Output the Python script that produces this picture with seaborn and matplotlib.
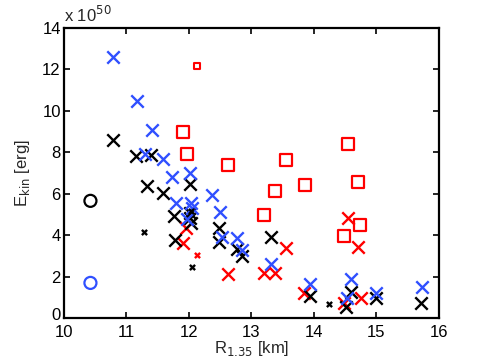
import matplotlib
matplotlib.use("Agg")
import matplotlib.pyplot as plt
import matplotlib.transforms as mtrans
import seaborn as sns
import numpy as np

# ---- data (R_1.35 in km, E_kin in 1e50 erg) ----
blue_x_R = [10.79, 11.17, 11.41, 11.30, 11.59, 11.74, 12.02, 12.37, 11.79, 12.03, 12.05,
            12.50, 11.97, 12.53, 12.77, 12.85, 13.32, 13.94, 14.59, 14.53, 14.99, 15.73]
blue_x_E = [12.60, 10.48, 9.08, 7.92, 7.68, 6.82, 6.98, 5.94, 5.58, 5.54, 5.33,
            5.12, 4.78, 3.93, 3.89, 3.31, 2.61, 1.63, 1.87, 0.95, 1.22, 1.51]

black_x_R = [10.79, 11.16, 11.39, 11.33, 12.02, 11.59, 11.76, 12.02, 12.02, 12.04, 12.49,
             12.48, 11.78, 12.77, 12.85, 13.32, 13.94, 14.59, 14.51, 14.99, 15.72]
black_x_E = [8.59, 7.82, 7.87, 6.37, 6.47, 6.05, 4.95, 5.05, 4.81, 4.61, 4.37,
             3.68, 3.78, 3.33, 3.02, 3.90, 1.08, 1.27, 0.56, 0.95, 0.74]

black_small_R = [11.29, 12.05, 14.24, 12.03]
black_small_E = [4.18, 2.49, 0.66, 5.17]

red_x_R = [11.96, 11.91, 12.63, 13.20, 13.38, 13.56, 13.85, 14.55, 14.71, 14.48, 14.75]
red_x_E = [4.33, 3.62, 2.12, 2.20, 2.17, 3.38, 1.19, 4.81, 3.41, 0.72, 0.98]

red_small_x_R = [12.13]
red_small_x_E = [3.04]

red_sq_R = [11.91, 11.97, 12.63, 13.20, 13.38, 13.56, 13.86, 14.55, 14.71, 14.74, 14.48]
red_sq_E = [8.96, 7.94, 7.39, 5.00, 6.15, 7.63, 6.42, 8.38, 6.58, 4.49, 3.96]

red_small_sq_R = [12.13]
red_small_sq_E = [12.18]

black_o_R = [10.43]
black_o_E = [5.66]
blue_o_R = [10.43]
blue_o_E = [1.70]

xticks = [10, 11, 12, 13, 14, 15, 16]
yticks = [0, 2, 4, 6, 8, 10, 12, 14]

BLUE = "#3050ff"
RED = "#ff0000"
BLACK = "#000000"

sns.set_theme(style="white")
plt.rcParams["font.family"] = ["Liberation Sans", "DejaVu Sans"]

fig = plt.figure(figsize=(4.85, 3.64), dpi=100)
ax = fig.add_axes([0.131, 0.126, 0.774, 0.797])

big = 80
small = 14

def xs(R, E, color, s, lw):
    sns.scatterplot(x=R, y=E, marker="x", s=s, color=color, linewidth=lw, ax=ax, zorder=3)

sns.scatterplot(x=red_sq_R, y=red_sq_E, marker="s", s=75, facecolor="none",
                edgecolor=RED, linewidth=1.6, ax=ax, zorder=3)
sns.scatterplot(x=red_small_sq_R, y=red_small_sq_E, marker="s", s=20, facecolor="none",
                edgecolor=RED, linewidth=1.5, ax=ax, zorder=3)
sns.scatterplot(x=black_o_R, y=black_o_E, marker="o", s=75, facecolor="none",
                edgecolor=BLACK, linewidth=1.6, ax=ax, zorder=3)
sns.scatterplot(x=blue_o_R, y=blue_o_E, marker="o", s=75, facecolor="none",
                edgecolor=BLUE, linewidth=1.6, ax=ax, zorder=3)

xs(red_x_R, red_x_E, RED, big, 1.7)
xs(black_x_R, black_x_E, BLACK, big, 1.7)
xs(blue_x_R, blue_x_E, BLUE, big, 1.7)
xs(black_small_R, black_small_E, BLACK, small, 1.7)
xs(red_small_x_R, red_small_x_E, RED, small, 1.7)

ax.set_xlim(10, 16)
ax.set_ylim(0, 14)
ax.set_xticks(xticks)
ax.set_yticks(yticks)
ax.tick_params(direction="in", length=4, width=1.2, top=True, right=True,
               bottom=True, left=True, labelsize=12, colors="black")
ax.tick_params(axis="x", pad=5)
ax.tick_params(axis="y", pad=2)
for sp in ax.spines.values():
    sp.set_visible(True)
    sp.set_linewidth(1.6)
    sp.set_color("black")

# nudge the "0" label up slightly so it does not collide with "10"
lbl0 = ax.get_yticklabels()[0]
lbl0.set_transform(lbl0.get_transform() +
                   mtrans.ScaledTranslation(0, 3 / 72, fig.dpi_scale_trans))

ax.set_xlabel(r"R$_{1.35}$ [km]", fontsize=12, labelpad=-1)
ax.set_ylabel(r"E$_{\rm kin}$ [erg]", fontsize=12, labelpad=7)
ax.text(0.0, 1.012, r"x 10$^{50}$", transform=ax.transAxes, fontsize=12,
        ha="left", va="bottom")

fig.savefig("out.png", dpi=100)
